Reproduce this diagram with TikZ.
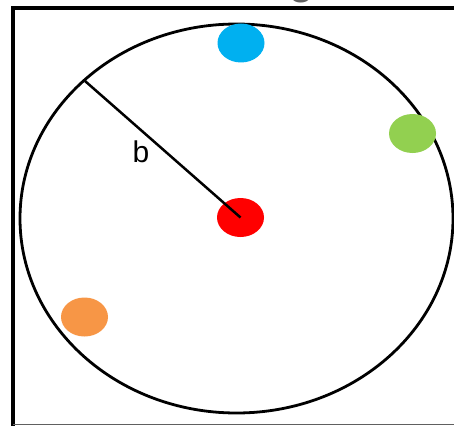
\documentclass[tikz,border=0pt]{standalone}
\usepackage{fontspec}
\setmainfont{Liberation Sans}
\usetikzlibrary{shapes.geometric}
\definecolor{dotred}{HTML}{FF0000}
\definecolor{dotblue}{HTML}{00B0F0}
\definecolor{dotgreen}{HTML}{92D050}
\definecolor{dotorange}{HTML}{F79646}
\definecolor{fragray}{HTML}{606060}
\begin{document}
\begin{tikzpicture}[x=1pt,y=-1pt,
  dot/.style={ellipse, minimum width=47pt, minimum height=39pt, inner sep=0pt, draw=none},
  frameline/.style={line width=3.2pt, black},
  ring/.style={line width=2.8pt, black},
  radius/.style={line width=2.5pt, black}]
\useasboundingbox (0,0) rectangle (454,425);
% cut-off fragment at top
\node[text=fragray, font=\bfseries\fontsize{40}{40}\selectfont, anchor=base] (frag) at (302,-5) {g};
% frame
\draw[frameline] (13,430) -- (13,8) -- (460,8);
\draw[fragray, line width=1pt] (13,424.5) -- (460,424.5);
% big ellipse
\draw[ring] (236.5,218.5) ellipse [x radius=216.5, y radius=194.5];
% dots
\node[dot, fill=dotred] (red) at (240.5,217.5) {};
\node[dot, fill=dotblue] (blue) at (241,43) {};
\node[dot, fill=dotgreen] (green) at (412.5,133.5) {};
\node[dot, fill=dotorange] (orange) at (84.5,317) {};
% radius line
\coordinate (rim) at (85,81);
\draw[radius] (rim) -- (red.center);
\node[font=\fontsize{30}{36}\selectfont, inner sep=0pt] (b) at (141,152) {b};
\end{tikzpicture}
\end{document}
